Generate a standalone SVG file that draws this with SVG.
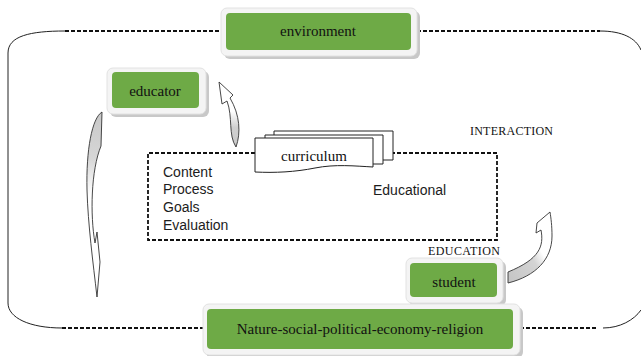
<svg xmlns="http://www.w3.org/2000/svg" width="641" height="356" viewBox="0 0 641 356">
<defs>
<linearGradient id="gDown" x1="0" y1="0" x2="0" y2="1">
<stop offset="0" stop-color="#c8c8c8"/><stop offset="0.25" stop-color="#d6d6d6"/><stop offset="0.45" stop-color="#fff"/><stop offset="1" stop-color="#fff"/>
</linearGradient>
<linearGradient id="gUp" x1="0" y1="1" x2="0" y2="0">
<stop offset="0" stop-color="#c8c8c8"/><stop offset="0.3" stop-color="#d0d0d0"/><stop offset="0.55" stop-color="#fff"/><stop offset="1" stop-color="#fff"/>
</linearGradient>
<linearGradient id="gSt" x1="0" y1="1" x2="1" y2="0">
<stop offset="0" stop-color="#c4c4c4"/><stop offset="0.45" stop-color="#d4d4d4"/><stop offset="0.6" stop-color="#fff"/><stop offset="1" stop-color="#fff"/>
</linearGradient>
</defs>
<style>
.sh{fill:#c8c8c8;}
.fr{fill:#f4f4f4;stroke:#e2e2e2;stroke-width:1;}
.gr{fill:#6eaa46;}
.lbl{font-family:"Liberation Serif",serif;font-size:15px;fill:#111;text-anchor:middle;}
.cap{font-family:"Liberation Serif",serif;font-size:12px;fill:#111;}
.sans{font-family:"Liberation Sans",Arial,sans-serif;font-size:14px;fill:#1c1c1c;}
.dash{fill:none;stroke:#111;stroke-width:1.8;stroke-dasharray:4,2;}
.solid{fill:none;stroke:#222;stroke-width:1;}
.arr{stroke:#333;stroke-width:0.9;stroke-linejoin:round;}
.pg{fill:#fff;stroke:#222;stroke-width:1;}
</style>
<g id="connectors">
<path class="dash" d="M65,31 H220"/>
<path class="dash" d="M417,31 H600"/>
<path class="solid" d="M65,31 C30,31 8,36 8,53 V303 C8,318 30,328 62,328"/>
<path class="dash" d="M62,328 H203"/>
<path class="dash" d="M520,328 H598"/>
<path class="solid" d="M600,31 C622,31 636,38 641,50"/>
<path class="solid" d="M603,328 C620,328 634,320 641,310"/>
<path class="dash" d="M255,153 H148 V240 H497 V153 H383"/>
<path class="arr" fill="url(#gDown)" d="M102,112 C92,118 86,150 87,190 C88,225 93,262 97,297 L100,262 L97,232 L95,243 C90,215 91,170 101,146 Z"/>
<path class="arr" fill="url(#gUp)" d="M236,147 C228,135 233,117 227,101 L222,104 L219,82 L233,95 L230,98 C240,115 241,133 236,147 Z"/>
<path class="arr" fill="url(#gSt)" d="M550,212 L537,223 L536,233 L541,230 C544,246 540,259 508,272 L508,283 C536,276 552,259 552,236 C552,226 551,218 550,212 Z"/>
</g>
<g id="environment">
<rect class="sh" x="224" y="11" width="196" height="48" rx="6"/>
<rect class="fr" x="221" y="8" width="196" height="48" rx="6"/>
<rect class="gr" x="226" y="13" width="185" height="37" rx="4"/>
<text class="lbl" x="318" y="36">environment</text>
</g>
<g id="educator">
<rect class="sh" x="110" y="71" width="99" height="46" rx="6"/>
<rect class="fr" x="107" y="68" width="99" height="46" rx="6"/>
<rect class="gr" x="112" y="72" width="87" height="36" rx="4"/>
<text class="lbl" x="155" y="96">educator</text>
</g>
<g id="student">
<rect class="sh" x="409" y="261" width="97" height="45" rx="6"/>
<rect class="fr" x="406" y="258" width="97" height="45" rx="6"/>
<rect class="gr" x="410" y="263" width="87" height="34" rx="4"/>
<text class="lbl" x="454" y="287">student</text>
</g>
<g id="nature">
<rect class="sh" x="206" y="307" width="317" height="51" rx="6"/>
<rect class="fr" x="203" y="304" width="317" height="51" rx="6"/>
<rect class="gr" x="207" y="309" width="306" height="40" rx="4"/>
<text class="lbl" x="360" y="334">Nature-social-political-economy-religion</text>
</g>
<g id="curriculum">
<path class="pg" d="M274,131 H393 V160 H274 Z"/>
<path class="pg" d="M265,135 H383 V164 H265 Z"/>
<path class="pg" d="M255,138 H373 V167 C355,166 335,164 315,168 C295,172 275,173 255,172 Z"/>
<text class="lbl" x="314" y="161">curriculum</text>
</g>
<g id="educational">
<text class="sans" x="163" y="177">Content</text>
<text class="sans" x="163" y="194">Process</text>
<text class="sans" x="163" y="212">Goals</text>
<text class="sans" x="163" y="230">Evaluation</text>
<text class="sans" x="373" y="195">Educational</text>
</g>
<g id="labels">
<text class="cap" x="470" y="135" textLength="83">INTERACTION</text>
<text class="cap" x="428" y="255" textLength="72">EDUCATION</text>
</g>
</svg>
